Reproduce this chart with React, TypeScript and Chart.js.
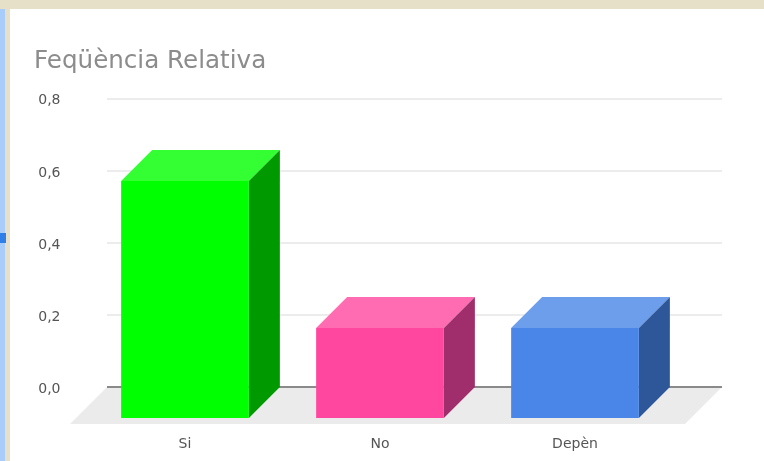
import React, { useEffect, useRef } from "react";
import { Chart, registerables } from "chart.js";

Chart.register(...registerables);

const categories = ["Si", "No", "Depèn"];
const frequencies = [0.658, 0.25, 0.25];
const frontColors = ["#00ff00", "#ff479f", "#4a86e8"];
const topColors = ["#33ff33", "#ff6cb2", "#6d9eeb"];
const sideColors = ["#009900", "#a02e6c", "#2d5799"];
const yTicks = [0, 0.2, 0.4, 0.6, 0.8];

const DEPTH = 31;
const FLOOR = 37;
const GRID_LEFT = 107;
const GRID_RIGHT = 722;

const poly = (ctx: CanvasRenderingContext2D, pts: number[][], fill: string) => {
  ctx.beginPath();
  pts.forEach(([x, y], i) => (i ? ctx.lineTo(x, y) : ctx.moveTo(x, y)));
  ctx.closePath();
  ctx.fillStyle = fill;
  ctx.fill();
};

const threeD = {
  id: "threeD",
  beforeDatasetsDraw(chart: any) {
    const { ctx, scales } = chart;
    const y = scales.y;
    const zero = y.getPixelForValue(0);
    ctx.save();
    // back wall grid lines
    for (const t of yTicks) {
      if (t === 0) continue;
      const py = Math.round(y.getPixelForValue(t));
      ctx.strokeStyle = "#ececec";
      ctx.lineWidth = 2;
      ctx.beginPath();
      ctx.moveTo(GRID_LEFT, py);
      ctx.lineTo(GRID_RIGHT, py);
      ctx.stroke();
    }
    // floor
    poly(
      ctx,
      [
        [GRID_LEFT, zero],
        [GRID_RIGHT, zero],
        [GRID_RIGHT - FLOOR, zero + FLOOR],
        [GRID_LEFT - FLOOR, zero + FLOOR],
      ],
      "#ebebeb"
    );
    ctx.strokeStyle = "#8a8a8a";
    ctx.lineWidth = 2;
    ctx.beginPath();
    ctx.moveTo(GRID_LEFT, zero);
    ctx.lineTo(GRID_RIGHT, zero);
    ctx.stroke();
    // top and side faces, from the bar elements on the back plane
    chart.getDatasetMeta(0).data.forEach((bar: any, i: number) => {
      const { x, y: top, base, width } = bar.getProps(["x", "y", "base", "width"], true);
      const l = x - width / 2;
      const r = x + width / 2;
      poly(ctx, [[l - DEPTH, top + DEPTH], [l, top], [r, top], [r - DEPTH, top + DEPTH]], topColors[i]);
      poly(ctx, [[r - DEPTH, top + DEPTH], [r, top], [r, base], [r - DEPTH, base + DEPTH]], sideColors[i]);
    });
    ctx.restore();
    // the library draws the front faces, shifted onto the front plane
    ctx.save();
    ctx.translate(-DEPTH, DEPTH);
  },
  afterDatasetsDraw(chart: any) {
    chart.ctx.restore();
  },
};

export default function App() {
  const ref = useRef<HTMLCanvasElement>(null);
  useEffect(() => {
    const chart = new Chart(ref.current!, {
      type: "bar",
      data: {
        labels: categories,
        datasets: [
          {
            data: frequencies,
            backgroundColor: frontColors,
            borderWidth: 0,
            categoryPercentage: 1,
            barPercentage: 0.655,
            clip: false,
          } as any,
        ],
      },
      options: {
        animation: false,
        responsive: false,
        devicePixelRatio: 1,
        layout: { padding: { left: 34, right: 60.5, top: 47, bottom: 2 } },
        plugins: {
          legend: { display: false },
          tooltip: { enabled: false },
          title: {
            display: true,
            text: "Feqüència Relativa",
            align: "start",
            color: "#8c8c8c",
            font: { family: "DejaVu Sans", size: 24.6, weight: "normal" },
            padding: { top: 0, bottom: 22.3 },
          },
        },
        scales: {
          x: {
            grid: { display: false },
            border: { display: false },
            afterFit: (s: any) => {
              s.height = 72;
            },
            ticks: {
              color: "#555555",
              font: { family: "DejaVu Sans", size: 14 },
              padding: 41,
              labelOffset: -DEPTH,
              maxRotation: 0,
            },
          },
          y: {
            min: 0,
            max: 0.8,
            grid: { display: false, drawTicks: false },
            border: { display: false },
            afterFit: (s: any) => {
              s.width = 84.5;
            },
            afterBuildTicks: (s: any) => {
              s.ticks = yTicks.map((value) => ({ value }));
            },
            ticks: {
              color: "#555555",
              font: { family: "DejaVu Sans", size: 14 },
              padding: 58,
              labelOffset: 2,
              callback: (v: any) => Number(v).toFixed(1).replace(".", ","),
            },
          },
        },
      },
      plugins: [threeD],
    });
    return () => chart.destroy();
  }, []);

  return (
    <div style={{ position: "fixed", inset: 0, background: "#ffffff", overflow: "hidden" }}>
      <canvas
        ref={ref}
        width={764}
        height={461}
        style={{ position: "absolute", left: 0, top: 0, width: 764, height: 461, filter: "blur(0.7px)" }}
      />
      <div style={{ position: "absolute", left: 0, top: 0, width: 764, height: 9, background: "#e6e0c8" }} />
      <div style={{ position: "absolute", left: 0, top: 9, width: 10, height: 452, background: "#e6e0c8" }} />
      <div style={{ position: "absolute", left: 0, top: 9, width: 5, height: 452, background: "#a9cdfb" }} />
      <div style={{ position: "absolute", left: 0, top: 233, width: 6, height: 10, background: "#2f7fe8" }} />
    </div>
  );
}
